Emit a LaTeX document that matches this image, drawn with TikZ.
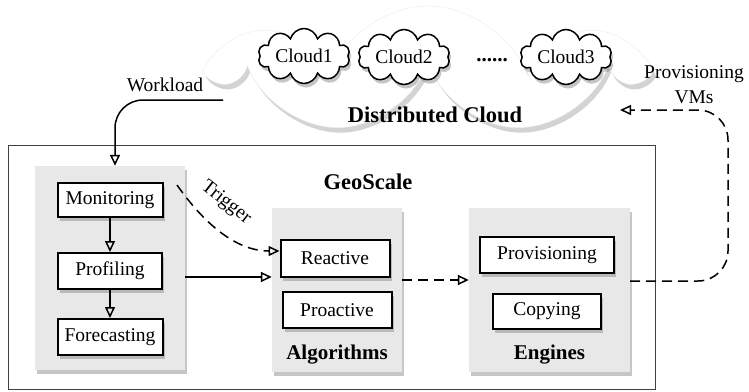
\documentclass[tikz,border=0pt]{standalone}
\usepackage{fontspec}
\setmainfont{Liberation Serif}
\usepackage{tikz}
\usetikzlibrary{arrows.meta,shapes.symbols,shadows}
\tikzset{
  px/.style={x=1pt, y=-1pt},
  txt/.style={font=\fontsize{19.5}{25}\selectfont},
  bold/.style={font=\fontsize{21}{25}\selectfont\bfseries},
  shade/.style={drop shadow={shadow xshift=2pt, shadow yshift=-4pt, opacity=0.45}},
  frame/.style={draw=black!75, line width=1pt},                          % GeoScale box
  panel/.style={fill=black!9, shade, inner sep=0pt},                     % grey module panel
  item/.style={draw, line width=2pt, fill=white, shade, txt, inner sep=0pt},
  bigcloud/.style={cloud, cloud puffs=7, cloud puff arc=140, cloud ignores aspect, fill=white, draw=black!8,
    drop shadow={shadow xshift=3pt, shadow yshift=-5pt, opacity=0.35}},
  smallcloud/.style={cloud, cloud puffs=10, cloud ignores aspect, draw, line width=1.5pt, fill=white, shade, txt, inner sep=0pt},
  flow/.style={line width=1.5pt, -{Triangle[open, length=11pt, width=10pt]}},
  dflow/.style={flow, dash pattern=on 10pt off 6pt},
}

\begin{document}
\begin{tikzpicture}[px]
  \useasboundingbox (0,0) rectangle (749,391);
  % distributed cloud
  \node[bigcloud, minimum width=412pt, minimum height=128pt] (dc) at (428,70) {};
  \node[smallcloud, minimum width=92pt, minimum height=55pt] (c1) at (304,56) {Cloud1};
  \node[smallcloud, minimum width=92pt, minimum height=55pt] (c2) at (404,57) {Cloud2};
  \node[bold] (dots) at (492,60) {......};
  \node[smallcloud, minimum width=92pt, minimum height=55pt] (c3) at (566,57) {Cloud3};
  \node[bold, font=\fontsize{22.5}{25}\selectfont\bfseries] (dcl) at (435,115) {Distributed Cloud};

  % GeoScale
  \node[frame, minimum width=647pt, minimum height=244pt, inner sep=0pt] (geo) at (332,267) {};
  \node[bold, font=\fontsize{22.5}{25}\selectfont\bfseries] (geol) at (368,182) {GeoScale};

  % panels
  \node[panel, minimum width=150pt, minimum height=204pt] (lp) at (110,268) {};
  \node[panel, minimum width=130pt, minimum height=164pt] (ap) at (337,290) {};
  \node[panel, minimum width=161pt, minimum height=164pt] (ep) at (549.5,290) {};

  % boxes
  \node[item, minimum width=105pt, minimum height=34pt] (mon) at (110,200) {Monitoring};
  \node[item, minimum width=104pt, minimum height=36pt] (prof) at (110,271) {Profiling};
  \node[item, minimum width=105pt, minimum height=36pt] (fore) at (110,337) {Forecasting};
  \node[item, minimum width=109pt, minimum height=37pt] (reac) at (335,258) {Reactive};
  \node[item, minimum width=109pt, minimum height=36pt] (proa) at (337,310) {Proactive};
  \node[item, minimum width=134pt, minimum height=36pt] (prov) at (547,255) {Provisioning};
  \node[item, minimum width=108pt, minimum height=35pt] (copy) at (547,311) {Copying};
  \node[bold] (algl) at (337,355) {Algorithms};
  \node[bold] (engl) at (549.5,355) {Engines};

  % connectors
  \coordinate (wl) at (223,100);
  \draw[flow, rounded corners=28pt] (wl) -| ([xshift=5pt]lp.north);
  \node[txt] (wll) at (165,85) {Workload};
  \draw[flow] (mon) -- (prof);
  \draw[flow] (prof) -- (fore);
  \draw[flow] ([yshift=-6pt]lp.east |- prof) -- ([yshift=-6pt]ap.west |- prof);
  \coordinate (trig) at (177,185);
  \draw[dflow] (trig) .. controls (203,222) and (235,251) .. ([yshift=7pt]reac.west);
  \node[txt, rotate=-38] (trigl) at (226,203) {Trigger};
  \draw[dflow] ([yshift=10pt]ap.east) -- ([yshift=10pt]ep.west);
  \coordinate (vmturn) at (728,110);
  \coordinate (vmend) at (620,110);
  \draw[dflow, rounded corners=30pt] ([yshift=9pt]ep.east) -| (vmturn) -- (vmend);
  \node[txt, align=center] (vml) at (694,85) {Provisioning\\VMs};
\end{tikzpicture}
\end{document}
